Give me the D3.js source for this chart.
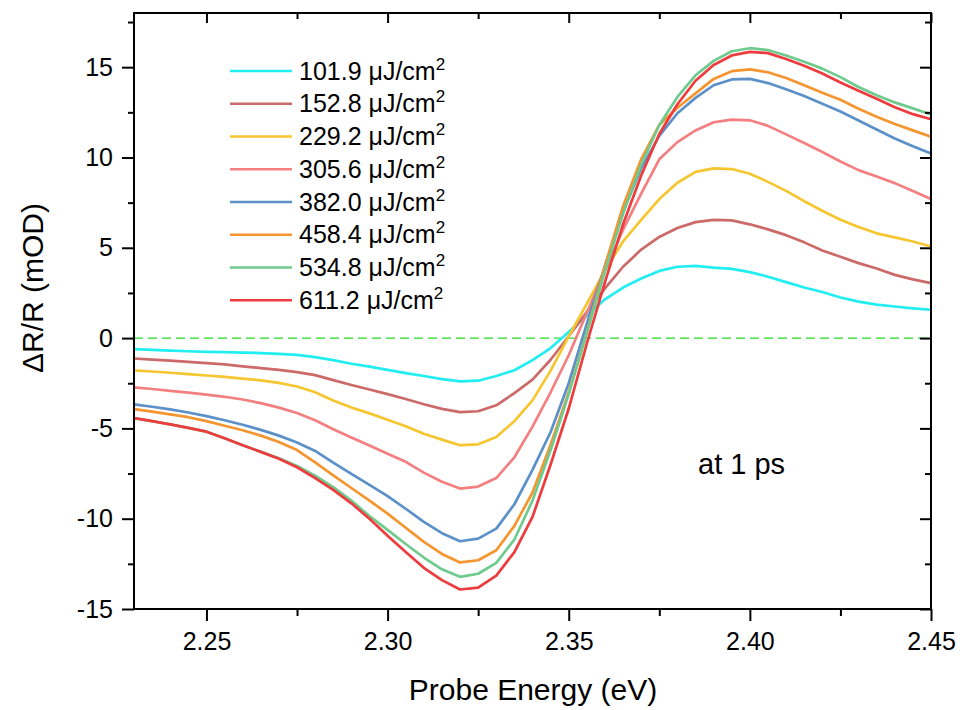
<!DOCTYPE html>
<html>
<head>
<meta charset="utf-8">
<script src="https://cdn.jsdelivr.net/npm/d3@7"></script>
<style>
  body { margin: 0; background: #fff; }
  text { font-family: "Liberation Sans", Arial, sans-serif; fill: #000; }
</style>
</head>
<body>
<div id="chart"></div>
<script>
// probe energies (eV)
var energy = [2.230, 2.235, 2.240, 2.245, 2.250, 2.255, 2.260, 2.265, 2.270, 2.275,
  2.280, 2.285, 2.290, 2.295, 2.300, 2.305, 2.310, 2.315, 2.320, 2.325,
  2.330, 2.335, 2.340, 2.345, 2.350, 2.355, 2.360, 2.365, 2.370, 2.375,
  2.380, 2.385, 2.390, 2.395, 2.400, 2.405, 2.410, 2.415, 2.420, 2.425,
  2.430, 2.435, 2.440, 2.445, 2.450];

// fluences (uJ/cm2) and their colours
var fluences = ["101.9", "152.8", "229.2", "305.6", "382.0", "458.4", "534.8", "611.2"];
var colors = ["#22eef2", "#cc6a6a", "#f6c630", "#f47f80", "#5b90c8", "#f5952f", "#6fca8e", "#ee3b3d"];

// dR/R (mOD) at 1 ps
var f101 = [-0.61, -0.65, -0.69, -0.73, -0.76, -0.78, -0.80, -0.83, -0.87, -0.93,
  -1.05, -1.22, -1.42, -1.58, -1.76, -1.94, -2.10, -2.27, -2.40, -2.36,
  -2.10, -1.78, -1.22, -0.55, 0.34, 1.25, 2.15, 2.80, 3.30, 3.72,
  3.95, 4.00, 3.90, 3.83, 3.65, 3.40, 3.10, 2.80, 2.55, 2.25,
  2.02, 1.85, 1.75, 1.65, 1.57];
var f152 = [-1.13, -1.19, -1.25, -1.32, -1.39, -1.46, -1.57, -1.66, -1.76, -1.88,
  -2.05, -2.33, -2.60, -2.85, -3.10, -3.37, -3.66, -3.92, -4.10, -4.05,
  -3.72, -3.05, -2.30, -1.20, 0.10, 1.45, 2.75, 3.95, 4.90, 5.60,
  6.10, 6.42, 6.55, 6.52, 6.30, 6.02, 5.70, 5.30, 4.85, 4.50,
  4.15, 3.85, 3.50, 3.25, 3.04];
var f229 = [-1.79, -1.85, -1.92, -1.99, -2.07, -2.15, -2.24, -2.34, -2.48, -2.68,
  -3.00, -3.45, -3.84, -4.17, -4.52, -4.88, -5.30, -5.62, -5.93, -5.88,
  -5.48, -4.60, -3.45, -1.80, 0.10, 1.90, 3.75, 5.35, 6.55, 7.70,
  8.60, 9.20, 9.40, 9.36, 9.10, 8.65, 8.15, 7.58, 7.05, 6.55,
  6.15, 5.80, 5.58, 5.35, 5.07];
var f305 = [-2.73, -2.82, -2.92, -3.02, -3.13, -3.25, -3.40, -3.60, -3.85, -4.15,
  -4.55, -5.05, -5.50, -5.95, -6.40, -6.85, -7.45, -7.95, -8.33, -8.22,
  -7.75, -6.60, -4.90, -3.00, -0.95, 1.40, 3.75, 6.00, 8.00, 9.90,
  10.85, 11.50, 11.95, 12.10, 12.06, 11.75, 11.28, 10.80, 10.30, 9.78,
  9.30, 8.95, 8.58, 8.15, 7.70];
var f382 = [-3.67, -3.80, -3.95, -4.12, -4.32, -4.55, -4.80, -5.08, -5.40, -5.78,
  -6.25, -6.90, -7.52, -8.13, -8.75, -9.45, -10.18, -10.80, -11.25, -11.10,
  -10.55, -9.20, -7.30, -5.20, -2.50, 0.80, 4.00, 7.00, 9.40, 11.20,
  12.45, 13.30, 14.00, 14.32, 14.35, 14.12, 13.78, 13.40, 12.98, 12.55,
  12.05, 11.55, 11.05, 10.62, 10.22];
var f458 = [-3.93, -4.07, -4.22, -4.38, -4.60, -4.85, -5.10, -5.40, -5.75, -6.20,
  -6.88, -7.60, -8.30, -9.00, -9.72, -10.50, -11.28, -11.95, -12.42, -12.30,
  -11.75, -10.40, -8.55, -5.90, -3.00, 0.30, 4.00, 7.30, 9.90, 11.80,
  12.75, 13.55, 14.35, 14.78, 14.88, 14.72, 14.40, 14.00, 13.58, 13.20,
  12.70, 12.25, 11.85, 11.50, 11.15];
var f534 = [-4.43, -4.60, -4.78, -4.97, -5.18, -5.55, -5.93, -6.30, -6.65, -7.08,
  -7.62, -8.25, -9.00, -9.85, -10.62, -11.40, -12.15, -12.80, -13.22, -13.05,
  -12.45, -11.15, -9.00, -6.20, -3.10, 0.30, 3.70, 6.90, 9.60, 11.80,
  13.35, 14.55, 15.35, 15.88, 16.05, 15.95, 15.65, 15.30, 14.92, 14.45,
  13.90, 13.45, 13.05, 12.72, 12.38];
var f611 = [-4.43, -4.60, -4.78, -4.97, -5.18, -5.55, -5.93, -6.30, -6.68, -7.15,
  -7.75, -8.40, -9.15, -10.00, -10.95, -11.85, -12.72, -13.40, -13.92, -13.82,
  -13.15, -11.85, -9.90, -7.00, -3.90, -0.30, 3.10, 6.30, 9.00, 11.30,
  12.95, 14.25, 15.12, 15.65, 15.85, 15.78, 15.45, 15.08, 14.65, 14.15,
  13.70, 13.25, 12.78, 12.40, 12.12];

var xMajor = [2.25, 2.30, 2.35, 2.40, 2.45];
var xMinor = [2.275, 2.325, 2.375, 2.425];
var yMajor = [-15, -10, -5, 0, 5, 10, 15];
var yMinor = [-12.5, -7.5, -2.5, 2.5, 7.5, 12.5, 17.5];

var allSeries = [f101, f152, f229, f305, f382, f458, f534, f611];

var svgWidth = 962;
var svgHeight = 710;
var margin = { top: 13, right: 31, bottom: 101, left: 134 };
var width = svgWidth - margin.left - margin.right;
var height = svgHeight - margin.top - margin.bottom;

var svg = d3.select("#chart")
  .append("svg")
  .attr("width", svgWidth)
  .attr("height", svgHeight);

var chartGroup = svg.append("g")
  .attr("transform", `translate(${margin.left}, ${margin.top})`);

// scales
var xLinearScale = d3.scaleLinear().domain([2.23, 2.45]).range([0, width]);
var yLinearScale = d3.scaleLinear().domain([-15, 18]).range([height, 0]);

// zero line
chartGroup.append("line")
  .attr("x1", xLinearScale(2.23))
  .attr("x2", xLinearScale(2.45))
  .attr("y1", yLinearScale(0))
  .attr("y2", yLinearScale(0))
  .attr("stroke", "#22dd22")
  .attr("stroke-width", 1.4)
  .attr("stroke-dasharray", "9,5");

// curves
var line = d3.line()
  .x(function(d, i) { return xLinearScale(energy[i]); })
  .y(function(d) { return yLinearScale(d); });

allSeries.forEach(function(series, k) {
  chartGroup.append("path")
    .datum(series)
    .attr("fill", "none")
    .attr("stroke", colors[k])
    .attr("stroke-width", 2.7)
    .attr("stroke-linejoin", "round")
    .attr("d", line);
});

// axes
function styleAxis(g, fontSize) {
  g.select(".domain").remove();
  g.selectAll(".tick line").attr("stroke", "#000").attr("stroke-width", 2);
  g.selectAll("text")
    .style("font-family", "'Liberation Sans', Arial, sans-serif")
    .style("font-size", fontSize + "px")
    .attr("fill", "#000");
}

var bottomAxis = d3.axisBottom(xLinearScale).tickValues(xMajor)
  .tickFormat(d3.format(".2f")).tickSize(12).tickPadding(11);
var bottomMinor = d3.axisBottom(xLinearScale).tickValues(xMinor)
  .tickFormat("").tickSize(7);
var topAxis = d3.axisTop(xLinearScale).tickValues(xMajor).tickFormat("").tickSize(-10);
var topMinor = d3.axisTop(xLinearScale).tickValues(xMinor).tickFormat("").tickSize(-6);
// plain hyphen for negatives, like the original
var leftAxis = d3.axisLeft(yLinearScale).tickValues(yMajor)
  .tickFormat(function(d) { return String(d); }).tickSize(12).tickPadding(9);
var leftMinor = d3.axisLeft(yLinearScale).tickValues(yMinor).tickFormat("").tickSize(6);
var rightAxis = d3.axisRight(yLinearScale).tickValues(yMajor).tickFormat("").tickSize(-11);
var rightMinor = d3.axisRight(yLinearScale).tickValues(yMinor).tickFormat("").tickSize(-6);

chartGroup.append("g").attr("transform", `translate(0, ${height})`).call(bottomAxis).call(styleAxis, 25);
chartGroup.append("g").attr("transform", `translate(0, ${height})`).call(bottomMinor).call(styleAxis, 25);
chartGroup.append("g").call(topAxis).call(styleAxis, 25);
chartGroup.append("g").call(topMinor).call(styleAxis, 25);
chartGroup.append("g").call(leftAxis).call(styleAxis, 25);
chartGroup.append("g").call(leftMinor).call(styleAxis, 25);
chartGroup.append("g").attr("transform", `translate(${width}, 0)`).call(rightAxis).call(styleAxis, 25);
chartGroup.append("g").attr("transform", `translate(${width}, 0)`).call(rightMinor).call(styleAxis, 25);

// frame
chartGroup.append("rect")
  .attr("width", width)
  .attr("height", height)
  .attr("fill", "none")
  .attr("stroke", "#000")
  .attr("stroke-width", 2);

// axis labels
chartGroup.append("text")
  .attr("transform", "rotate(-90)")
  .attr("x", -(288 - margin.top))
  .attr("y", 43 - margin.left)
  .attr("text-anchor", "middle")
  .style("font-size", "30px")
  .text("ΔR/R (mOD)");

chartGroup.append("text")
  .attr("x", 533 - margin.left)
  .attr("y", height + 91)
  .attr("text-anchor", "middle")
  .style("font-size", "30px")
  .text("Probe Energy (eV)");

// annotation
chartGroup.append("text")
  .attr("x", 698 - margin.left)
  .attr("y", 474 - margin.top)
  .style("font-size", "29px")
  .text("at 1 ps");

// legend
var legend = svg.append("g").attr("transform", "translate(230, 71)");
fluences.forEach(function(f, k) {
  var row = legend.append("g").attr("transform", `translate(0, ${k * 32.75})`);
  row.append("line")
    .attr("x1", 0).attr("x2", 62)
    .attr("stroke", colors[k])
    .attr("stroke-width", 2.7);
  var t = row.append("text")
    .attr("x", 69)
    .attr("y", 8.5)
    .style("font-size", "25px");
  t.append("tspan").text(f + " μJ/cm");
  t.append("tspan").attr("dy", -10).style("font-size", "17px").text("2");
});
</script>
</body>
</html>
